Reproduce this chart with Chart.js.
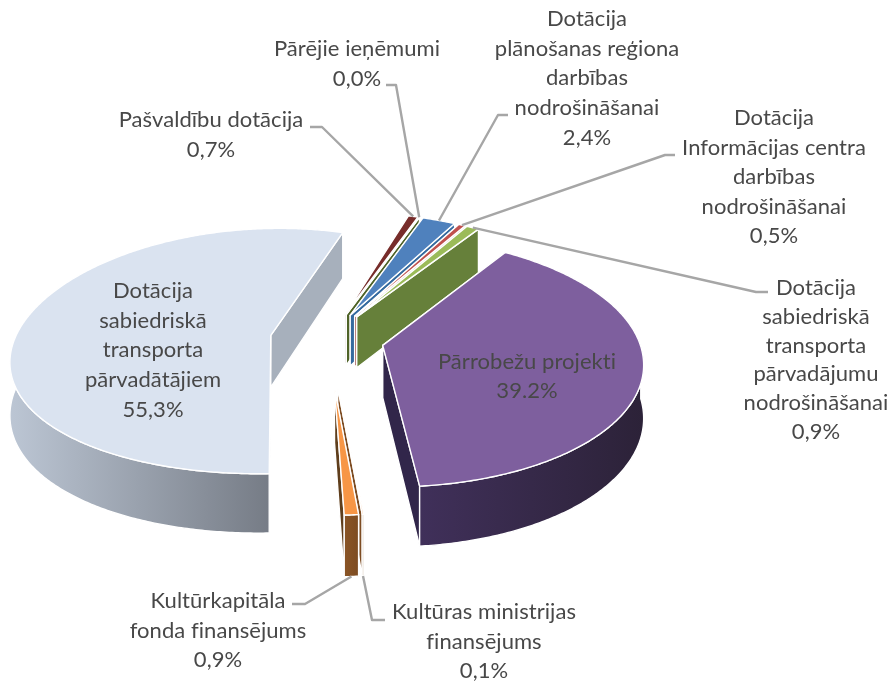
<!DOCTYPE html>
<html><head><meta charset="utf-8">
<script src="https://cdn.jsdelivr.net/npm/chart.js@4"></script>
<style>html,body{margin:0;padding:0;background:#fff}#w{width:894px;height:686px}</style>
</head><body><div id="w"><canvas id="c"></canvas></div>
<script>
const categories = [
  ["Dotācija","sabiedriskā","transporta","pārvadātājiem"],
  ["Pašvaldību dotācija"],
  ["Pārējie ieņēmumi"],
  ["Dotācija","plānošanas reģiona","darbības","nodrošināšanai"],
  ["Dotācija","Informācijas centra","darbības","nodrošināšanai"],
  ["Dotācija","sabiedriskā","transporta","pārvadājumu","nodrošināšanai"],
  ["Pārrobežu projekti"],
  ["Kultūras ministrijas","finansējums"],
  ["Kultūrkapitāla","fonda finansējums"]
];
const values = [55.3, 0.7, 0.04, 2.4, 0.5, 0.9, 39.2, 0.1, 0.9];
const percentLabels = ["55,3%","0,7%","0,0%","2,4%","0,5%","0,9%","39.2%","0,1%","0,9%"];
const topColours = ["#dae3f0","#772c2a","#5f7530","#4f81bd","#c0504d","#9bbb59","#7e5f9e","#f79646","#f79646"];
const faceColours = ["#a7b0bc","#5a2120","#4f6328","#356a9f","#8f3a38","#66803a","#31264a","#7d4c22","#5f3e1c"];
const wallFrom = ["#bcc6d4","#5a2120","#4f6328","#356a9f","#8f3a38","#66803a","#40305a","#82511f","#8a5526"];
const wallTo = ["#767c86","#5a2120","#4f6328","#356a9f","#8f3a38","#66803a","#2c2238","#82511f","#7d4c22"];
const offsets = [58,56,56,56,56,56,56,98,98];
const radiusFactor = [1,1,1,1,1,1,1,0.84,0.84];
const perspectiveX = [0.0007,0.0005,0.0005,0.0005,0.0005,0.0005,0.0005,0.0005,0.0005];

const K = 0.475, PY = 0.0005, Z = 52;
const drawOrder = [1,2,3,4,5,6,0,7,8];
const labelLayout = [
  {x:153,y:291,step:29.7},
  {x:211,y:120,step:29.5,lead:[[310,127],[322,127]]},
  {x:357,y:49,step:29.5,lead:[[386,85],[396,85]]},
  {x:587,y:19,step:29.7,lead:[[508,115],[498,115]]},
  {x:774,y:118,step:29.5,lead:[[675,155],[665,155]]},
  {x:816,y:288,step:28.8,lead:[[768,292],[756,292]]},
  {x:527,y:362,step:29},
  {x:484,y:612,step:29.5,lead:[[385,620],[372,620]],bottom:true},
  {x:218,y:601,step:29.5,lead:[[292,604],[305,604]],bottom:true}
];

function project(arc,px,py,z,i){
  const u=px-arc.x, v=py-arc.y;
  const sx=1/(1-perspectiveX[i]*v), sy=1/(1-PY*v);
  return [arc.x+u*sx, arc.y+(v*K+z)*sy];
}
function poly(ctx,pts){ctx.beginPath();pts.forEach((p,i)=>i?ctx.lineTo(p[0],p[1]):ctx.moveTo(p[0],p[1]));ctx.closePath();}

function sliceGeom(el,i){
  const a=el.getProps(['x','y','startAngle','endAngle','outerRadius'],true);
  const off=el.options.offset||0, mid=(a.startAngle+a.endAngle)/2;
  const ax=a.x+off*Math.cos(mid), ay=a.y+off*Math.sin(mid), r=a.outerRadius*radiusFactor[i];
  const pt=t=>[ax+r*Math.cos(t), ay+r*Math.sin(t)];
  const n=Math.max(2,Math.ceil((a.endAngle-a.startAngle)/0.01));
  const ang=[];for(let k=0;k<=n;k++)ang.push(a.startAngle+(a.endAngle-a.startAngle)*k/n);
  return {a,ax,ay,pt,ang,mid};
}

const pie3d={
  id:'pie3d',
  beforeDatasetsDraw(chart){
    const ctx=chart.ctx, els=chart.getDatasetMeta(0).data;
    ctx.save();ctx.lineJoin='round';ctx.strokeStyle='#ffffff';ctx.lineWidth=1.4;
    drawOrder.forEach(i=>{
      const g=sliceGeom(els[i],i),arc=g.a;
      const P0=(p,z)=>project(arc,p[0],p[1],z,i), apex=[g.ax,g.ay];
      [g.ang[0],g.ang[g.ang.length-1]].forEach(t=>{
        const e=g.pt(t);
        poly(ctx,[P0(apex,0),P0(e,0),P0(e,Z),P0(apex,Z)]);
        ctx.fillStyle=faceColours[i];ctx.fill();ctx.stroke();
      });
      const front=g.ang.filter(t=>Math.sin(t)>0);
      if(front.length>1){
        const topE=front.map(t=>P0(g.pt(t),0)), botE=front.map(t=>P0(g.pt(t),Z)).reverse();
        const xs=topE.map(p=>p[0]), x0=Math.min(...xs), x1=Math.max(...xs);
        const gr=ctx.createLinearGradient(x0,0,Math.max(x1,x0+1),0);
        gr.addColorStop(0,wallFrom[i]);
        gr.addColorStop(1,wallTo[i]);
        poly(ctx,topE.concat(botE));
        ctx.fillStyle=gr;ctx.fill();ctx.stroke();
      }
      const top=[P0(apex,0)].concat(g.ang.map(t=>P0(g.pt(t),0)));
      poly(ctx,top);ctx.fillStyle=topColours[i];ctx.fill();ctx.stroke();
    });
    ctx.restore();
    return false;
  },
  afterDraw(chart){
    const ctx=chart.ctx, els=chart.getDatasetMeta(0).data;
    ctx.save();
    ctx.strokeStyle='#a6a6a6';ctx.lineWidth=2.4;ctx.lineJoin='round';
    labelLayout.forEach((l,i)=>{
      if(!l.lead)return;
      const g=sliceGeom(els[i],i),m=g.pt(g.mid),e=project(g.a,m[0],m[1],l.bottom?Z:0,i);
      ctx.beginPath();ctx.moveTo(l.lead[0][0],l.lead[0][1]);ctx.lineTo(l.lead[1][0],l.lead[1][1]);ctx.lineTo(e[0],e[1]);ctx.stroke();
    });
    ctx.fillStyle='#484848';ctx.font='22px Lato';ctx.letterSpacing='0.05px';ctx.textAlign='center';ctx.textBaseline='middle';
    labelLayout.forEach((l,i)=>{
      categories[i].concat([percentLabels[i]]).forEach((t,k)=>ctx.fillText(t,l.x,l.y+k*l.step));
    });
    ctx.restore();
  }
};

new Chart(document.getElementById('c'),{
  type:'pie',
  data:{labels:categories.map(c=>c.join(' ')),datasets:[{data:values,backgroundColor:topColours,offset:offsets,borderWidth:0}]},
  options:{
    responsive:true,maintainAspectRatio:false,animation:false,
    rotation:178,radius:256,
    layout:{padding:{right:238,bottom:8}},
    plugins:{legend:{display:false},tooltip:{enabled:false}}
  },
  plugins:[pie3d]
});
</script></body></html>
